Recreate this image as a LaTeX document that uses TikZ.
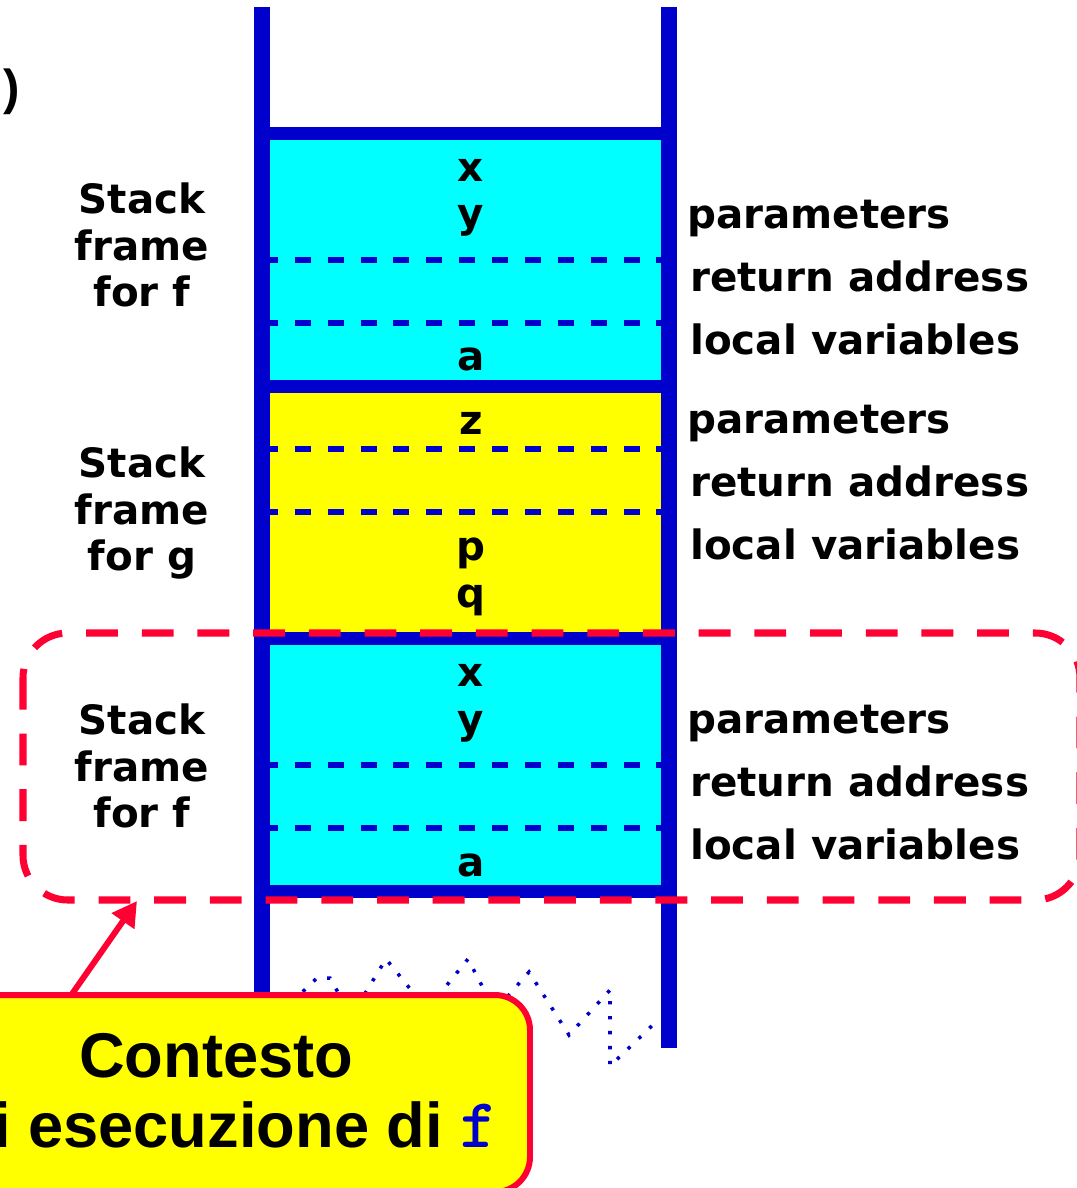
\documentclass[tikz,border=0pt]{standalone}
\usepackage{fontspec}
\setmainfont{DejaVu Sans}
\newfontfamily\calfont{Liberation Sans}
\usetikzlibrary{arrows.meta}
\tikzset{
  wall/.style={stackblue,line width=9.07pt},
  border/.style={stackblue,line width=7.4pt},
  slot/.style={stackblue,line width=3.4pt,dash pattern=on 9.07pt off 9.64pt},
  cell/.style={anchor=base,inner sep=0pt,font=\bfseries\fontsize{23}{27}\selectfont},
  role/.style={anchor=base west,inner sep=0pt,font=\bfseries\fontsize{23}{27}\selectfont},
  side/.style={align=center,inner sep=0pt,font=\bfseries\fontsize{23}{26.6}\selectfont},
  ctx/.style={ctxred,line width=4pt,dash pattern=on 18.1pt off 13.6pt,rounded corners=25.5pt},
  trail/.style={stackblue,line width=2pt,dash pattern=on 1.9pt off 6.6pt},
  callout/.style={fill=frameyellow,draw=ctxred,line width=3.4pt,rounded corners=20pt},
  pointer/.style={ctxred,line width=3.4pt,-{Triangle[length=14pt,width=15pt]}}
}
\begin{document}
\begin{tikzpicture}[x=0.02cm,y=-0.02cm]
  \definecolor{stackblue}{HTML}{0000CC}
  \definecolor{framecyan}{HTML}{00FFFF}
  \definecolor{frameyellow}{HTML}{FFFF00}
  \definecolor{ctxred}{HTML}{FF0033}
  \useasboundingbox (0,0) rectangle (1077,1188);
  \fill [framecyan] (262,133) rectangle (669,386);
  \fill [frameyellow] (262,386) rectangle (669,638);
  \fill [framecyan] (262,638) rectangle (669,891);
  \foreach \y in {260,323,449,512,765,828}
    \draw [slot] (262,\y) -- (669,\y);
  \foreach \y in {133.5,386,638,891}
    \draw [border] (262,\y) -- (669,\y);
  \draw [wall] (262,7) -- (262,1010);
  \draw [wall] (669,7) -- (669,1048);
  \node [cell] (x1) at (471,181) {x};
  \node [cell] (y1) at (471,227) {y};
  \node [cell] (a1) at (471,370) {a};
  \node [cell] (z2) at (471,434) {z};
  \node [cell] (p2) at (471,560) {p};
  \node [cell] (q2) at (471,607) {q};
  \node [cell] (x3) at (471,686) {x};
  \node [cell] (y3) at (471,733) {y};
  \node [cell] (a3) at (471,876) {a};
  \foreach \f/\b in {1/228,2/433,3/733} {
    \node [role] (par\f) at (687,\b) {parameters};
    \node [role] (ret\f) at (690,\b+63) {return address};
    \node [role] (loc\f) at (690,\b+126) {local variables};
  }
  \node [side] (sf1) at (142,245) {Stack\\frame\\for f};
  \node [side] (sg) at (142,513) {Stack\\frame\\for g};
  \node [side] (sf2) at (142,766) {Stack\\frame\\for f};
  \node [inner sep=0pt,font=\calfont\bfseries\fontsize{28}{28}\selectfont] (paren) at (12,92) {)};
  \draw [ctx] (23,633) rectangle (1080,900);
  \draw [trail] (292,1002) -- (317,978) -- (330,978) -- (345,1005) -- (358,1005)
    -- (386,959) -- (424,1006) -- (430,1006) -- (468,959) -- (492,1005)
    -- (500,1005) -- (529,972) -- (569,1035) -- (610,990) -- (610,1066) -- (658,1020);
  \draw [callout] (-60,995) rectangle (530,1192);
  \node [align=center,inner sep=0pt,font=\calfont\bfseries\fontsize{36}{39.7}\selectfont] (note) at (226,1091)
    {Contesto\hspace*{11pt}\\di esecuzione di {\ttfamily\bfseries\fontsize{40}{40}\selectfont\color{stackblue}f}};
  \coordinate (ctxtip) at (137,901);
  \coordinate (notetip) at (72,994);
  \draw [pointer] (notetip) -- (ctxtip);
\end{tikzpicture}
\end{document}
